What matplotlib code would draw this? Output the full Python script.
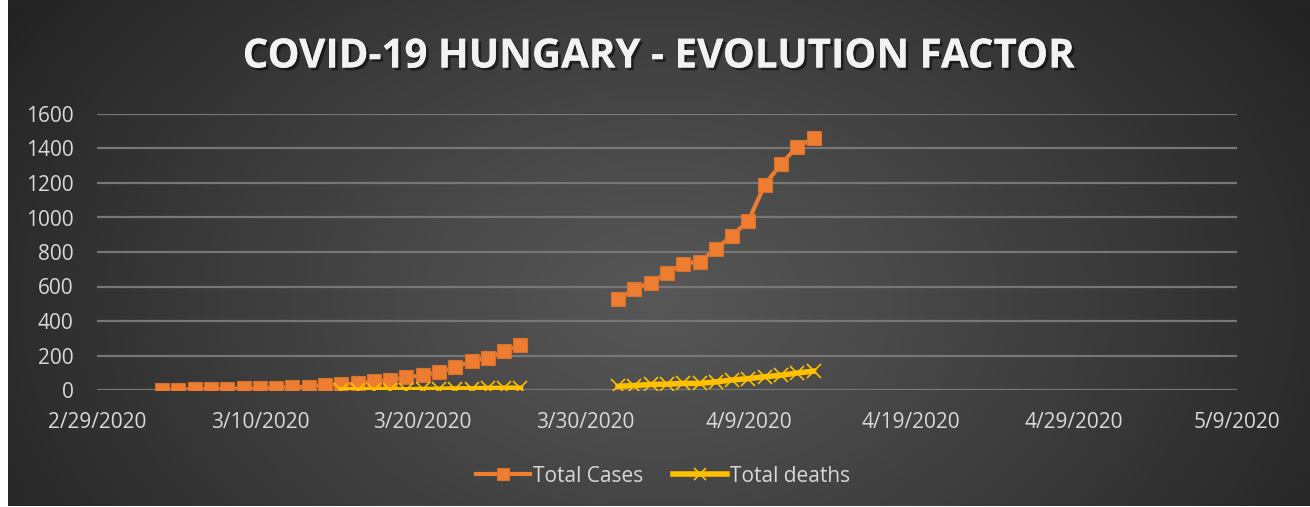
import numpy as np
import pandas as pd
import matplotlib
matplotlib.use("Agg")
import matplotlib.pyplot as plt
import matplotlib.patheffects as pe

# Hungary COVID-19 cumulative counts (NaN = no report entered)
dates = pd.date_range("2020-03-04", "2020-04-13", freq="D")
total_cases = [2, 2, 4, 7, 7, 9, 9, 13, 16, 19, 30, 32, 39, 50, 58, 73, 85, 103,
               131, 167, 187, 226, 261,
               np.nan, np.nan, np.nan, np.nan, np.nan,
               525, 585, 623, 678, 733, 744, 817, 895, 980, 1190, 1310, 1410, 1458]
total_deaths = [np.nan] * 11 + [1, 1, 1, 1, 1, 3, 4, 6, 7, 9, 10, 10,
                np.nan, np.nan, np.nan, np.nan, np.nan,
                21, 26, 32, 34, 38, 38, 47, 58, 66, 77, 85, 99, 109]
tick_dates = pd.date_range("2020-02-29", "2020-05-09", freq="10D")
y_ticks = list(range(0, 1601, 200))

W, H, DPI = 1310, 507, 100
fig = plt.figure(figsize=(W / DPI, H / DPI), dpi=DPI, facecolor="white")

# dark radial-gradient chart background
bg = fig.add_axes([8 / W, 1 / H, 1 - 8 / W, 1 - 1 / H])
bg.set_axis_off()
yy, xx = np.mgrid[0:H, 0:W - 8]
cx, cy = 650, 300
r = np.sqrt(((xx - cx) / 760.0) ** 2 + ((yy - cy) / 520.0) ** 2)
r = np.clip(r, 0, 1)
inner, outer = 0x57 / 255, 0x24 / 255
val = inner + (outer - inner) * r ** 1.1
bg.imshow(np.dstack([val, val, val]), aspect="auto", extent=[0, 1, 0, 1])
bg.set_xlim(0, 1)
bg.set_ylim(0, 1)

ax = fig.add_axes([97 / W, 1 - 390 / H, (1237 - 97) / W, (390 - 114) / H])
ax.patch.set_alpha(0)
ax.set_xlim(pd.Timestamp("2020-02-29"), pd.Timestamp("2020-05-09"))
ax.set_ylim(0, 1600)

font = "Open Sans"
fs = 15
ax.set_yticks(y_ticks)
ax.set_xticks(tick_dates)
ax.set_xticklabels([f"{d.month}/{d.day}/{d.year}" for d in tick_dates])
ax.tick_params(axis="both", length=0, labelsize=fs, labelcolor="#d9d9d9")
ax.tick_params(axis="y", pad=17)
ax.tick_params(axis="x", pad=16)
for lab in ax.get_xticklabels() + ax.get_yticklabels():
    lab.set_fontfamily(font)
ax.grid(axis="y", color="#777777", linewidth=1.6)
ax.set_axisbelow(True)
for s in ax.spines.values():
    s.set_visible(False)

ax.plot(dates, total_cases, color="#ED7D31", linewidth=3, marker="s",
        markersize=10.5, markeredgecolor="#d9702b", markeredgewidth=0.8,
        label="Total Cases", zorder=3)
ax.plot(dates, total_deaths, color="#FFC000", linewidth=4, marker="x",
        markersize=10.5, markeredgewidth=1.2, label="Total deaths", zorder=4)

leg = ax.legend(loc="center", bbox_to_anchor=(663 / W, 1 - 476 / H),
                bbox_transform=fig.transFigure, ncol=2, frameon=False,
                handlelength=2.6, columnspacing=1.4, handletextpad=0.15,
                markerscale=0.85, prop={"family": font, "size": fs})
for t in leg.get_texts():
    t.set_color("#d9d9d9")

title = fig.text(659 / W, 1 - 57 / H, "COVID-19 HUNGARY - EVOLUTION FACTOR",
                 ha="center", va="center", color="#f2f2f2", fontsize=29,
                 fontweight="bold", family=font)
title.set_path_effects([pe.withSimplePatchShadow(offset=(2, -2), shadow_rgbFace="black",
                                                 alpha=0.5),
                        pe.Normal()])

fig.savefig("out.png", dpi=DPI, facecolor="white")
